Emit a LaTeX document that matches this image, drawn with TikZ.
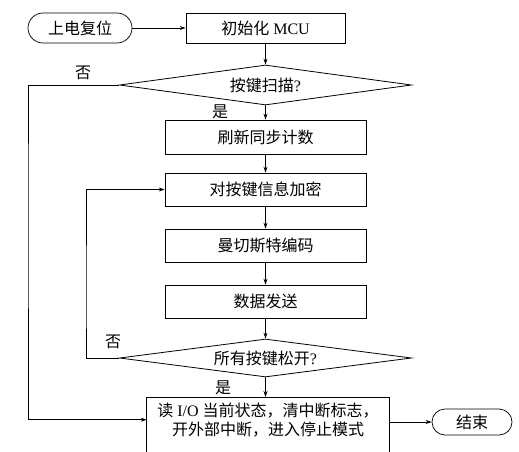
\documentclass[tikz,border=0pt]{standalone}
\usepackage{fontspec}
\setmainfont{Liberation Serif}
\newfontfamily\cjk{Noto Sans CJK SC}
\usetikzlibrary{shapes.geometric,arrows.meta,calc}
\begin{document}
\begin{tikzpicture}[x=1pt,y=-1pt,
  every node/.style={font=\fontsize{16}{19}\selectfont},
  proc/.style={draw, line width=0.8pt, minimum width=201pt, minimum height=34pt, inner sep=0pt},
  term/.style={draw, line width=0.7pt, inner sep=0pt},
  dec/.style={draw, diamond, line width=0.8pt, aspect=7.3, minimum width=292pt, minimum height=40pt, inner sep=0pt},
  conn/.style={line width=0.7pt, -{Stealth[length=6pt,width=4pt]}},
  lbl/.style={inner sep=0pt}]
\useasboundingbox (0,0) rectangle (519,452);
\coordinate (pagebottom) at (0,452);
\coordinate (o1) at (28,200);
\coordinate (o2) at (86,300);

\node[term, rounded corners=15pt, minimum width=104pt, minimum height=30pt] (start) at (80,28) {\cjk 上电复位};
\node[proc, minimum width=159pt, minimum height=30pt] (init) at (265.5,28) {{\cjk 初始化} MCU};
\node[dec] (d1) at (265.5,85) {{\cjk 按键扫描}?};
\node[proc] (refresh) at (265.5,137) {\cjk 刷新同步计数};
\node[proc, minimum height=33pt] (enc) at (265.5,189.5) {\cjk 对按键信息加密};
\node[proc, minimum height=33pt] (man) at (265.5,245.5) {\cjk 曼切斯特编码};
\node[proc, minimum height=33pt] (send) at (265.5,301.5) {\cjk 数据发送};
\node[dec, minimum height=38pt] (d2) at (265.5,358) {{\cjk 所有按键松开}?};
\node[align=center, minimum width=242pt, minimum height=45pt, inner sep=0pt, anchor=north] (stop) at (268,397)
  {{\cjk 读} I/O {\cjk 当前状态，清中断标志，}\\{\cjk 开外部中断，进入停止模式}};
\node[term, rounded corners=13pt, minimum width=80pt, minimum height=26pt] (end) at (472,422) {\cjk 结束};

\draw[line width=0.8pt] (stop.west |- pagebottom) -- (stop.north west) -- (stop.north east) -- (stop.east |- pagebottom);

\node[lbl] (no1) at (83,73) {\cjk 否};
\node[lbl] (no2) at (113,342) {\cjk 否};
\node[lbl] (yes1) at (220,112) {\cjk 是};
\node[lbl] (yes2) at (223,388) {\cjk 是};

\draw[conn] (start) -- (init);
\draw[conn] (init) -- (d1.north);
\draw[conn] (d1.south) -- (refresh);
\draw[conn] (refresh) -- (enc);
\draw[conn] (enc) -- (man);
\draw[conn] (man) -- (send);
\draw[conn] (send) -- (d2.north);
\draw[conn] (d2.south) -- (d2.south |- stop.north);
\draw[conn] (d1.west) -| (o1) |- (stop.west);
\draw[conn] (d2.west) -| (o2) |- (enc.west);
\draw[conn] (stop.east |- end.west) -- (end.west);
\end{tikzpicture}
\end{document}
